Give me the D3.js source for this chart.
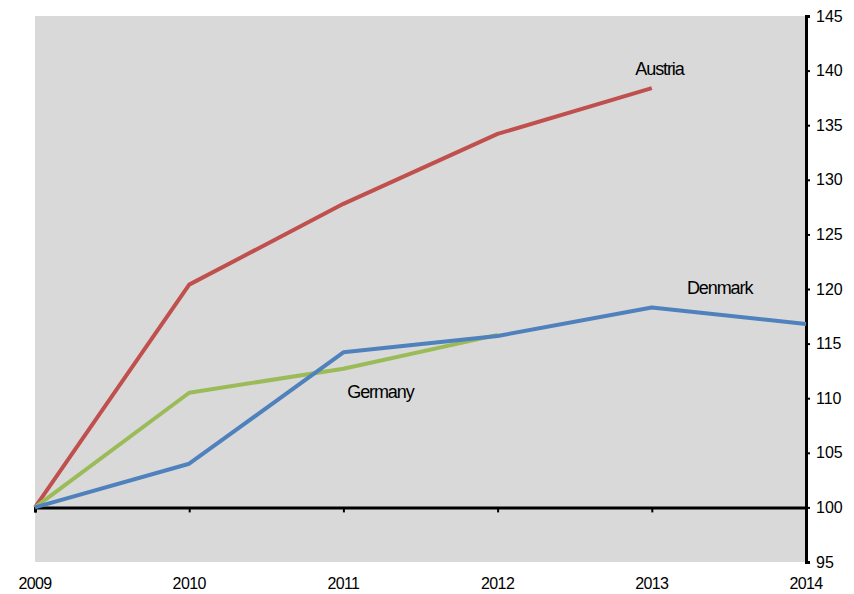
<!DOCTYPE html>
<html><head><meta charset="utf-8">
<script src="https://cdn.jsdelivr.net/npm/d3@7"></script>
<style>body{margin:0;background:#fff}text{font-family:"Liberation Sans",Arial,sans-serif}</style>
</head><body><svg id="c" width="854" height="594"></svg>
<script>
const years = [2009, 2010, 2011, 2012, 2013, 2014];
const austria = [100, 120.4, 127.8, 134.2, 138.4];
const germany = [100, 110.5, 112.7, 115.8];
const denmark = [100, 104.0, 114.2, 115.7, 118.3, 116.8];
const yTicks = [95, 100, 105, 110, 115, 120, 125, 130, 135, 140, 145];
const seriesNames = ["Austria", "Germany", "Denmark"];
const seriesColors = ["#C0504D", "#9BBB59", "#4F81BD"];

const svg = d3.select("#c");
const x = d3.scaleLinear().domain([2009, 2014]).range([35, 806]);
const y = d3.scaleLinear().domain([95, 145]).range([562, 16]);

svg.append("rect").attr("x", x(2009)).attr("y", y(145))
  .attr("width", x(2014) - x(2009)).attr("height", y(95) - y(145)).attr("fill", "#D9D9D9");

// x axis at 100
const xAxis = svg.append("g").attr("transform", `translate(0,${y(100)})`)
  .call(d3.axisBottom(x).tickValues(years).tickSize(5).tickFormat(""));
xAxis.select(".domain").attr("stroke", "#000").attr("stroke-width", 3);
xAxis.selectAll(".tick line").attr("stroke", "#000").attr("stroke-width", 2);

// x labels at bottom
svg.append("g").selectAll("text").data(years).join("text")
  .attr("x", d => x(d)).attr("y", 589).attr("text-anchor", "middle")
  .attr("font-size", 16).attr("letter-spacing", -0.6).attr("fill", "#000").text(d => d);

// right y axis
const yAxis = svg.append("g").attr("transform", `translate(${x(2014)},0)`)
  .call(d3.axisRight(y).tickValues(yTicks).tickSize(4).tickPadding(6));
yAxis.select(".domain").attr("stroke", "#000").attr("stroke-width", 3);
yAxis.selectAll(".tick line").attr("stroke", "#000").attr("stroke-width", 2);
yAxis.selectAll(".tick text").attr("font-size", 16).attr("fill", "#000")
  .attr("font-family", "Liberation Sans, Arial, sans-serif");

const line = d3.line().x((d, i) => x(years[i])).y(d => y(d));
const data = [austria, germany, denmark];
svg.append("g").selectAll("path").data(data).join("path")
  .attr("d", d => line(d)).attr("fill", "none")
  .attr("stroke", (d, i) => seriesColors[i]).attr("stroke-width", 4)
  .attr("stroke-linejoin", "round");

// series labels
const labelPos = [[2013.05, 139.6], [2011.24, 110.05], [2013.44, 119.5]];
svg.append("g").selectAll("text").data(seriesNames).join("text")
  .attr("x", (d, i) => x(labelPos[i][0])).attr("y", (d, i) => y(labelPos[i][1]))
  .attr("text-anchor", "middle").attr("font-size", 18).attr("letter-spacing", -1.1)
  .attr("fill", "#000").text(d => d);
</script></body></html>
